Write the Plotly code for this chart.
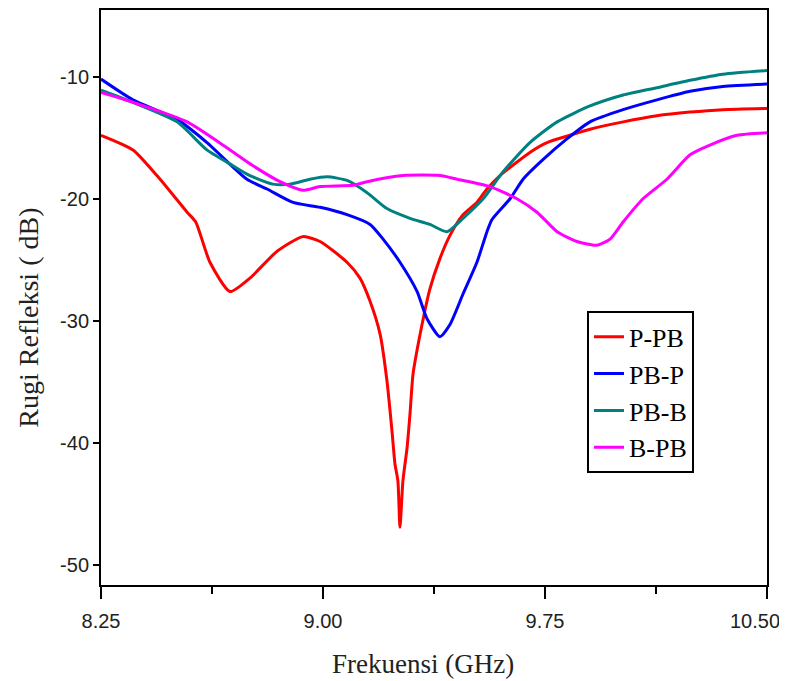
import plotly.graph_objects as go

# P-PB (red)
ppb_x = [8.25, 8.358, 8.439, 8.541, 8.57, 8.618, 8.686, 8.753, 8.845, 8.932, 8.990, 9.081, 9.125, 9.159,
         9.193, 9.216, 9.233, 9.243, 9.253, 9.260, 9.270, 9.284, 9.294, 9.304, 9.328, 9.361, 9.395,
         9.429, 9.473, 9.520, 9.554, 9.598, 9.699, 9.757, 9.834, 9.902, 10.014, 10.128, 10.240,
         10.351, 10.50]
ppb_y = [-14.8, -16.0, -18.1, -21.1, -21.9, -25.2, -27.6, -26.5, -24.3, -23.1, -23.5, -25.2, -26.5, -28.4,
         -31.1, -34.9, -39.0, -41.7, -43.1, -46.9, -43.1, -40.4, -37.6, -34.4, -31.1, -27.4, -24.9,
         -23.0, -21.3, -20.3, -19.2, -18.1, -16.2, -15.4, -14.8, -14.3, -13.7, -13.2, -12.9,
         -12.7, -12.6]

# PB-P (blue)
pbp_x = [8.25, 8.358, 8.507, 8.608, 8.743, 8.811, 8.899, 8.990, 9.081, 9.159, 9.203, 9.260, 9.318,
         9.351, 9.395, 9.429, 9.473, 9.520, 9.554, 9.571, 9.632, 9.676, 9.743, 9.824, 9.902, 10.014,
         10.128, 10.240, 10.351, 10.50]
pbp_y = [-10.2, -11.9, -13.5, -15.4, -18.4, -19.2, -20.3, -20.7, -21.3, -22.1, -23.3, -25.2, -27.6,
         -29.8, -31.3, -30.3, -27.8, -25.2, -22.7, -21.7, -20.0, -18.4, -16.8, -15.1, -13.7, -12.7,
         -11.9, -11.2, -10.8, -10.6]

# PB-B (teal)
pbb_x = [8.25, 8.358, 8.507, 8.608, 8.696, 8.753, 8.831, 8.889, 8.956, 9.014, 9.081, 9.149, 9.216,
         9.294, 9.361, 9.419, 9.473, 9.541, 9.608, 9.699, 9.791, 9.902, 10.014, 10.128, 10.240,
         10.351, 10.50]
pbb_y = [-11.1, -12.1, -13.7, -16.0, -17.3, -18.1, -18.8, -18.8, -18.4, -18.2, -18.5, -19.5, -20.8,
         -21.6, -22.1, -22.7, -21.6, -20.0, -17.8, -15.4, -13.7, -12.4, -11.5, -10.9, -10.3,
         -9.8, -9.5]

# B-PB (magenta)
bpb_x = [8.25, 8.358, 8.541, 8.686, 8.764, 8.855, 8.932, 8.990, 9.101, 9.149, 9.270, 9.395, 9.453,
         9.564, 9.655, 9.723, 9.791, 9.858, 9.926, 9.970, 10.014, 10.081, 10.162, 10.240, 10.307,
         10.399, 10.50]
bpb_y = [-11.3, -12.1, -13.7, -16.0, -17.3, -18.6, -19.3, -19.0, -18.9, -18.6, -18.1, -18.1, -18.4,
         -19.0, -20.0, -21.1, -22.7, -23.5, -23.8, -23.3, -21.9, -20.0, -18.4, -16.4, -15.6,
         -14.8, -14.6]

series_names = ["P-PB", "PB-P", "PB-B", "B-PB"]
series_colors = ["#FF0000", "#0000FF", "#008080", "#FF00FF"]

x_ticks = [8.25, 9.00, 9.75, 10.50]
x_ticktext = ["8.25", "9.00", "9.75", "10.50"]
y_ticks = [-10, -20, -30, -40, -50]
y_ticktext = ["-10", "-20", "-30", "-40", "-50"]
x_title = "Frekuensi (GHz)"
y_title = "Rugi Refleksi ( dB)"

fig = go.Figure()
for name, color, xs, ys in zip(series_names, series_colors,
                               [ppb_x, pbp_x, pbb_x, bpb_x],
                               [ppb_y, pbp_y, pbb_y, bpb_y]):
    fig.add_trace(go.Scatter(x=xs, y=ys, mode="lines", name=name,
                             line=dict(color=color, width=3, shape="spline", smoothing=0.6)))

# last tick label drawn as annotation so it stays inside the page
shown_ticktext = x_ticktext[:-1] + [""]

fig.update_layout(
    width=787, height=681,
    margin=dict(l=93, r=28, t=0, b=104),
    plot_bgcolor="white", paper_bgcolor="white",
    showlegend=True,
    legend=dict(x=0.7297, y=0.4758, xanchor="left", yanchor="top",
                bordercolor="black", borderwidth=2, bgcolor="white",
                font=dict(family="Liberation Serif", size=26, color="black"),
                tracegroupgap=0, itemwidth=30),
    font=dict(family="Liberation Sans", color="black"),
    annotations=[
        dict(text=x_ticktext[-1], x=x_ticks[-1], xref="x", y=0, yref="paper",
             xanchor="center", yanchor="middle", xshift=-12, yshift=-36, showarrow=False,
             font=dict(family="Liberation Sans", size=20, color="#222")),
        dict(text=x_title, x=0.4835, xref="paper", y=0, yref="paper",
             xanchor="center", yanchor="middle", yshift=-79, showarrow=False,
             font=dict(family="Liberation Serif", size=27, color="#222")),
        dict(text=y_title, x=0, xref="paper", y=0.465, yref="paper", textangle=-90,
             xanchor="center", yanchor="middle", xshift=-72, showarrow=False,
             font=dict(family="Liberation Serif", size=28, color="#222")),
    ],
)
fig.update_xaxes(
    range=[8.25, 10.5], tickvals=x_ticks, ticktext=shown_ticktext,
    showgrid=False, zeroline=False, showline=True, linecolor="black", linewidth=2, mirror=True,
    ticks="outside", ticklen=12, tickwidth=2, tickcolor="black",
    minor=dict(ticks="outside", ticklen=7, tickwidth=2, tickcolor="black", dtick=0.375, tick0=8.25),
    tickfont=dict(family="Liberation Sans", size=20, color="#222"),
    ticklabelstandoff=5,
)
fig.update_yaxes(
    range=[-51.63, -4.54], tickvals=y_ticks, ticktext=y_ticktext,
    showgrid=False, zeroline=False, showline=True, linecolor="black", linewidth=2, mirror=True,
    ticks="outside", ticklen=6, tickwidth=2, tickcolor="black",
    tickfont=dict(family="Liberation Sans", size=20, color="#222"),
)

fig.write_html("out.html")
